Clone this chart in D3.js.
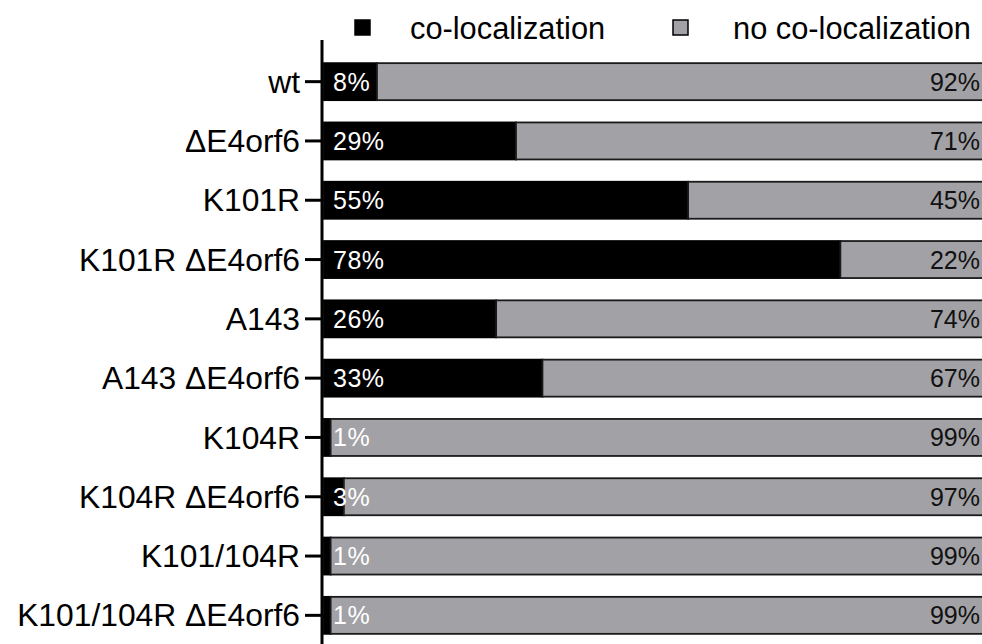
<!DOCTYPE html>
<html><head><meta charset="utf-8">
<script src="https://cdn.jsdelivr.net/npm/d3@7"></script>
<style>
html,body{margin:0;padding:0;background:#fff;overflow:hidden}
svg{display:block;font-family:"Liberation Sans",Arial,sans-serif}
</style></head><body>
<svg id="chart" width="982" height="644"></svg>
<script>
const categories = ["wt","ΔE4orf6","K101R","K101R ΔE4orf6","A143","A143 ΔE4orf6","K104R","K104R ΔE4orf6","K101/104R","K101/104R ΔE4orf6"];
const coloc = [8,29,55,78,26,33,1,3,1,1];
const noColoc = [92,71,45,22,74,67,99,97,99,99];
const seriesNames = ["co-localization","no co-localization"];

const svg = d3.select("#chart");
const x = d3.scaleLinear().domain([0,100]).range([324,986]);
const y = d3.scaleBand().domain(categories).range([52,645]).paddingInner(0.376).paddingOuter(0.188);
const gray = "#a2a1a6";

const g = svg.append("g");
categories.forEach((c,i)=>{
  const y0 = y(c), h = y.bandwidth();
  g.append("rect").attr("x",x(0)).attr("y",y0).attr("width",x(coloc[i])-x(0)).attr("height",h)
    .attr("fill","#000").attr("stroke","#000").attr("stroke-width",1.8);
  g.append("rect").attr("x",x(coloc[i])).attr("y",y0).attr("width",x(coloc[i]+noColoc[i])-x(coloc[i])).attr("height",h)
    .attr("fill",gray).attr("stroke","#1a1a1a").attr("stroke-width",1.8);
  g.append("text").attr("x",333).attr("y",y0+h/2).attr("dy","0.36em")
    .attr("fill","#fff").attr("font-size",25).attr("letter-spacing",0.5).text(coloc[i]+"%");
  g.append("text").attr("x",980).attr("y",y0+h/2).attr("dy","0.36em").attr("text-anchor","end")
    .attr("fill","#111").attr("font-size",25).text(noColoc[i]+"%");
});

// axis
const axis = d3.axisLeft(y).tickSize(17).tickPadding(5);
const ag = svg.append("g").attr("transform","translate(322,0)").call(axis);
ag.select(".domain").attr("d","M0,40V644").attr("stroke","#000").attr("stroke-width",3);
ag.selectAll(".tick line").attr("stroke","#000").attr("stroke-width",3);
ag.selectAll(".tick text").attr("font-size",31.8).attr("fill","#000")
  .attr("font-family","'Liberation Sans',Arial,sans-serif").attr("dy","0.35em");

// legend
const leg = svg.append("g");
const legX = [355,673], legTX = [410,733], legFill = ["#000",gray];
seriesNames.forEach((s,i)=>{
  leg.append("rect").attr("x",legX[i]).attr("y",20).attr("width",15).attr("height",15)
    .attr("fill",legFill[i]).attr("stroke","#000").attr("stroke-width",1.5);
  leg.append("text").attr("x",legTX[i]).attr("y",28).attr("dy","0.35em")
    .attr("font-size",30.8).attr("fill","#000").text(s);
});
</script></body></html>
